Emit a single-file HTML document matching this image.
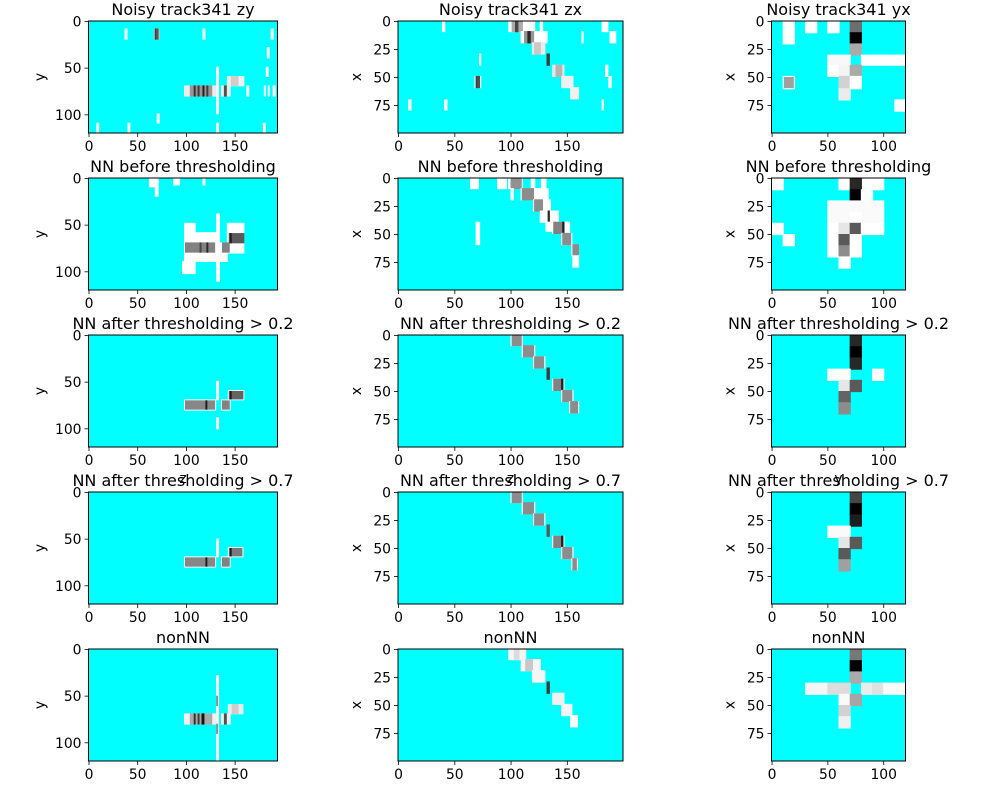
<!DOCTYPE html>
<html><head><meta charset="utf-8">
<style>
html,body{margin:0;padding:0;background:#fff;}
svg{display:block;font-family:"DejaVu Sans","Liberation Sans",sans-serif;}
</style></head>
<body>
<svg id="fig" width="1000" height="800" viewBox="0 0 1000 800" xmlns="http://www.w3.org/2000/svg"></svg>
<script>
// Data: rectangles in data coords [x0, x1, y0, y1, gray]
const titles = [
 ["Noisy track341 zy","Noisy track341 zx","Noisy track341 yx"],
 ["NN before thresholding","NN before thresholding","NN before thresholding"],
 ["NN after thresholding > 0.2","NN after thresholding > 0.2","NN after thresholding > 0.2"],
 ["NN after thresholding > 0.7","NN after thresholding > 0.7","NN after thresholding > 0.7"],
 ["nonNN","nonNN","nonNN"]
];
const xTicks = [[0,50,100,150],[0,50,100,150],[0,50,100]];
const yTicks = [[0,50,100],[0,25,50,75],[0,25,50,75]];
const yLabels = ["y","x","x"];
const xLabels = ["z","z","y"];

const zy1 = [[37,39,8,19,255],[67,72,8,19,200],[68,69,8,19,60],[70,71,8,19,90],[117,119,8,19,255],[187,189,8,19,255],[183,185,28,39,255],[182,184,49,59,255],[131,133,49,99,255],[142,159,59,69,240],[146,153,59,69,205],[98,130,69,80,235],[104,126,69,80,150],[108,109,69,80,50],[112,113,69,80,60],[117,118,69,80,30],[121,122,69,80,60],[136,145,69,80,235],[139,141,69,80,80],[162,164,69,80,255],[180,181,69,80,255],[184,185,69,80,255],[189,191,69,80,255],[70,72,99,109,255],[8,10,109,119,255],[40,42,109,119,255],[131,133,109,119,255],[179,181,109,119,255]];
const zy2 = [[62,71,0,9,255],[68,71,0,19,255],[87,93,0,7,255],[117,119,0,7,255],[131,134,38,110,255],[98,109,48,58,255],[98,134,58,89,255],[142,159,48,80,255],[135,142,69,89,255],[96,109,89,102,255],[99,129,69,79,130],[114,115,69,79,70],[121,122,69,79,40],[137,144,69,79,130],[144,159,59,69,90],[145,146,59,69,30]];
const zy3 = [[131,133,49,69,255],[131,133,88,100,255],[98,130,69,80,255],[99,129,70,79,135],[120,121,70,79,30],[136,145,69,80,255],[137,144,70,79,130],[143,159,59,69,255],[144,158,60,68,100],[145,146,60,68,30]];
const zy4 = [[131,133,50,69,255],[98,130,69,80,255],[99,129,70,79,135],[120,121,70,79,30],[136,145,69,80,255],[137,144,70,79,130],[143,158,59,69,255],[144,157,60,68,120],[145,146,60,68,30]];
const zy5 = [[131,133,28,119,255],[131,132,50,60,140],[131,132,80,90,140],[98,130,69,80,240],[104,126,69,80,170],[108,109,69,80,50],[112,113,69,80,60],[116,118,69,80,20],[136,145,69,80,240],[139,141,69,80,80],[143,158,59,69,235],[147,153,59,69,205]];

const zx1 = [[39,41,0,9,255],[181,186,0,9,255],[188,193,9,19,255],[163,164,9,19,255],[72,73,29,39,255],[184,186,39,49,255],[187,189,49,59,255],[68,73,49,59,255],[69,70,49,59,60],[71,72,49,59,80],[9,11,70,79,255],[41,43,70,79,255],[181,182,70,79,255],[126,128,0,9,255],[98,121,0,9,255],[101,110,0,9,170],[104,106,0,9,70],[109,132,9,19,255],[112,120,9,19,150],[115,117,9,19,40],[119,130,19,29,235],[121,126,19,29,200],[132,134,29,39,60],[137,147,39,49,230],[140,145,39,49,180],[145,155,49,59,240],[153,160,59,69,240]];
const zx2 = [[64,71,0,9,255],[88,96,0,9,255],[98,110,0,9,255],[100,109,0,9,145],[118,121,0,9,255],[127,131,0,9,255],[100,102,9,19,255],[109,121,9,19,255],[110,120,9,19,140],[121,133,9,24,255],[120,129,19,29,255],[121,128,19,29,140],[129,135,19,29,255],[126,142,29,39,255],[133,134,29,39,40],[131,137,39,47,255],[137,152,39,49,255],[138,146,39,49,130],[146,147,39,49,30],[145,154,49,59,255],[146,153,49,59,140],[154,160,59,69,255],[155,160,59,69,140],[155,160,69,79,255],[69,72,39,59,255]];
const zx3 = [[100,110,0,9,255],[101,109,0,9,140],[110,121,9,19,255],[111,120,9,19,140],[120,130,19,29,255],[121,129,19,29,140],[132,134,29,39,60],[137,147,39,49,255],[138,146,39,49,130],[145,146,39,49,30],[145,155,49,59,255],[146,154,49,59,140],[152,160,59,69,255],[153,159,59,69,140]];
const zx4 = [[100,110,0,9,255],[101,109,0,9,140],[110,121,9,19,255],[111,120,9,19,140],[120,130,19,29,255],[121,129,19,29,140],[132,134,29,39,90],[137,147,39,49,255],[138,146,39,49,130],[145,146,39,49,30],[145,155,49,59,255],[146,154,49,59,140],[154,159,59,69,255],[155,158,59,69,140]];
const zx5 = [[98,113,0,9,245],[103,107,0,9,220],[109,126,9,19,245],[113,119,9,19,200],[119,130,19,29,245],[132,134,29,39,60],[137,147,39,49,240],[145,154,49,59,245],[153,159,59,69,255]];

const yx1 = [[10,20,0,20,255],[30,40,0,10,255],[50,60,0,10,255],[70,80,0,10,110],[70,80,10,20,0],[70,80,20,30,170],[50,70,30,39,248],[80,120,30,39,255],[50,60,39,49,255],[60,70,39,49,245],[70,80,39,49,170],[60,70,49,60,210],[70,80,49,60,255],[10,20,49,60,255],[11,19,50,59,160],[60,70,60,70,235],[110,120,70,80,255]];
const yx2 = [[0,10,0,10,255],[60,70,0,10,255],[80,100,0,10,255],[70,80,0,10,40],[70,80,10,20,0],[70,80,20,30,30],[80,90,10,20,255],[50,100,20,40,250],[70,80,30,40,255],[0,10,40,50,255],[50,70,40,50,255],[60,70,40,50,230],[70,80,40,50,90],[80,100,40,50,255],[10,20,50,60,255],[50,60,50,70,255],[60,70,50,60,90],[60,70,60,70,140],[70,80,50,70,255],[60,70,70,80,255]];
const yx3 = [[70,80,0,10,40],[70,80,10,20,0],[70,80,20,30,40],[50,70,30,40,255],[90,100,30,40,255],[60,70,40,50,230],[70,80,40,50,90],[60,70,50,60,100],[60,70,60,70,140]];
const yx4 = [[70,80,0,10,70],[70,80,10,20,0],[70,80,20,30,30],[50,70,30,40,250],[60,70,40,50,230],[70,80,40,50,90],[60,70,50,60,90],[60,70,60,70,160]];
const yx5 = [[70,80,0,10,120],[70,80,10,20,0],[70,80,20,30,170],[30,50,30,40,245],[50,70,30,40,220],[80,90,30,40,235],[90,100,30,40,225],[100,120,30,40,250],[60,70,40,50,250],[70,80,40,50,165],[60,70,50,60,210],[60,70,60,70,240]];

const panels = [[zy1,zx1,yx1],[zy2,zx2,yx2],[zy3,zx3,yx3],[zy4,zx4,yx4],[zy5,zx5,yx5]];

const cols = [{left:88.5,w:189,xmax:194,ymax:120,yl:48},{left:398,w:225,xmax:200,ymax:100,yl:41},{left:771.5,w:134,xmax:120,ymax:100,yl:41}];
const rowTops = [21,178,335,492,649];
const H = 112;
const NS = "http://www.w3.org/2000/svg";
const svg = document.getElementById('fig');
function mk(tag, attrs, parent){const e=document.createElementNS(NS,tag);for(const k in attrs)e.setAttribute(k,attrs[k]);(parent||svg).appendChild(e);return e;}

for(let r=0;r<5;r++){
 for(let c=0;c<3;c++){
  const col=cols[c], top=rowTops[r];
  const sx=v=>col.left+v*col.w/col.xmax;
  const sy=v=>top+v*H/col.ymax;
  const g=mk('g',{});
  
  
  const bg=mk('rect',{x:col.left,y:top,width:col.w,height:H,fill:'#00ffff'},g);
  
  
  panels[r][c].forEach(d=>{
   const x0=sx(d[0]), x1=sx(d[1]+1), y0=sy(d[2]), y1=sy(d[3]+1);
   const gv=d[4];
   const rc=mk('rect',{x:x0,y:y0,width:Math.max(0.8,x1-x0),height:Math.max(0.8,y1-y0),fill:'rgb('+gv+','+gv+','+gv+')'},g);
   
   
  });
  const fr=mk('rect',{x:col.left,y:top,width:col.w,height:H,fill:'none',stroke:'#000','stroke-width':1},g);
  
  
  xTicks[c].forEach(t=>{
   const x=sx(t+0.5);
   const l=mk('line',{x1:x,x2:x,y1:top+H,y2:top+H+4,stroke:'#000','stroke-width':0.8},g);
   
   
   const tx=mk('text',{x:x,y:top+H+18,'font-size':13.9,'text-anchor':'middle',fill:'#000'},g);
   
   
   tx.textContent=t;
  });
  yTicks[c].forEach(t=>{
   const y=sy(t+0.5);
   const l=mk('line',{x1:col.left-4,x2:col.left,y1:y,y2:y,stroke:'#000','stroke-width':0.8},g);
   
   
   const tx=mk('text',{x:col.left-7,y:y+5,'font-size':13.9,'text-anchor':'end',fill:'#000'},g);
   
   
   tx.textContent=t;
  });
  const yl=mk('text',{x:0,y:0,'font-size':13.9,'text-anchor':'middle',fill:'#000',transform:'translate('+(col.left-col.yl+4)+','+(top+H/2)+') rotate(-90)'},g);
  
  
  yl.textContent=yLabels[c];
  if(r==2){
   const xl=mk('text',{x:col.left+col.w/2,y:top+H+36,'font-size':13.9,'text-anchor':'middle',fill:'#000'},g);
   
   
   xl.textContent=xLabels[c];
  }
  const ti=mk('text',{x:col.left+col.w/2,y:top-6,'font-size':16,'text-anchor':'middle',fill:'#000'},g);
  
  
  ti.textContent=titles[r][c];
 }
}
</script>
</body></html>
